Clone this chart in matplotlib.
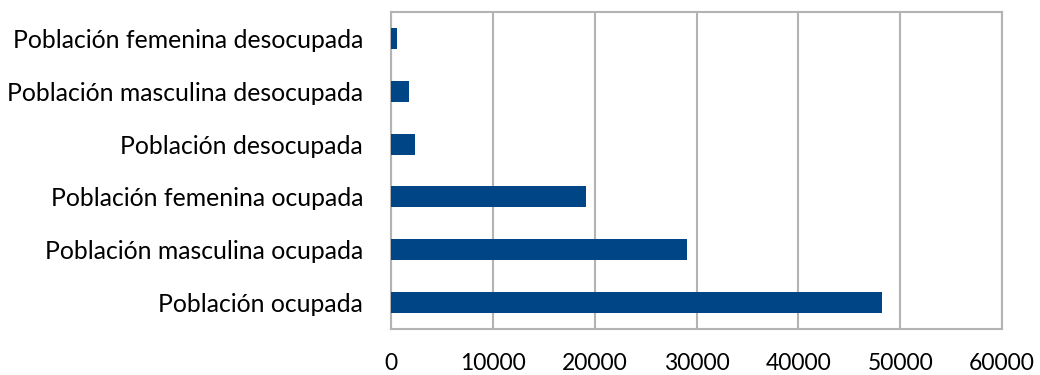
import matplotlib
matplotlib.use('Agg')
from matplotlib import pyplot as plt

categorias = ['Población ocupada',
              'Población masculina ocupada',
              'Población femenina ocupada',
              'Población desocupada',
              'Población masculina desocupada',
              'Población femenina desocupada']
valores = [48200, 29050, 19120, 2360, 1800, 560]

plt.rcParams['font.family'] = ['Lato', 'DejaVu Sans']

fig = plt.figure(figsize=(10.4, 3.75), dpi=100)
ax = fig.add_axes([391 / 1040, 1 - 329 / 375, 611 / 1040, 317 / 375])

ax.barh(range(len(categorias)), valores, height=0.4, color='#004586', zorder=3)

ax.set_xlim(0, 60000)
ax.set_ylim(-0.5, len(categorias) - 0.5)
ax.set_xticks(range(0, 60001, 10000))
ax.set_yticks(range(len(categorias)))
ax.set_yticklabels(categorias)

ax.grid(True, axis='x', color='#b3b3b3', linewidth=1.5, zorder=0)
for s in ax.spines.values():
    s.set_color('#b3b3b3')
    s.set_linewidth(1.5)
ax.tick_params(axis='both', length=0, colors='black')
ax.tick_params(axis='x', pad=17, labelsize=16.5)
ax.tick_params(axis='y', pad=20, labelsize=17.8)

fig.savefig('out.png', dpi=100)
